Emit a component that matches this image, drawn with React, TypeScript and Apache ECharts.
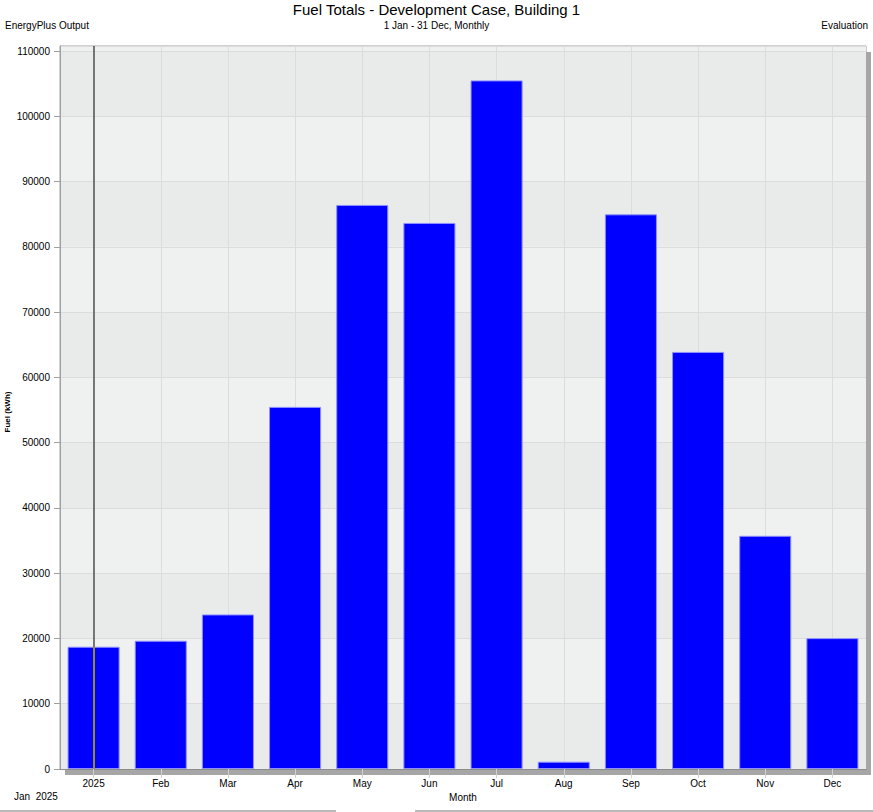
import React, { useEffect, useRef } from "react";
import * as echarts from "echarts";

const months = ["Jan", "Feb", "Mar", "Apr", "May", "Jun", "Jul", "Aug", "Sep", "Oct", "Nov", "Dec"];
const tickLabels = ["2025", "Feb", "Mar", "Apr", "May", "Jun", "Jul", "Aug", "Sep", "Oct", "Nov", "Dec"];
const fuelKWh = [18730, 19650, 23680, 55480, 86420, 83660, 105500, 1120, 84980, 63900, 35730, 20050];
const yMin = 0;
const yMax = 110770;
const yInterval = 10000;
const cursorMonthIndex = 0;

const FONT = '"Liberation Sans", Arial, sans-serif';

export default function App() {
  const ref = useRef<HTMLDivElement>(null);
  useEffect(() => {
    if (!ref.current) return;
    const chart = echarts.init(ref.current, undefined, { renderer: "svg" });
    const small = { fontSize: 10, fontWeight: "normal", color: "#000", fontFamily: FONT };
    const option: any = {
      animation: false,
      backgroundColor: "#ffffff",
      textStyle: { fontFamily: FONT },
      title: [
        {
          text: "Fuel Totals - Development Case, Building 1",
          left: "center",
          top: -3,
          textStyle: { fontSize: 15, fontWeight: "normal", color: "#000", fontFamily: FONT },
        },
        { text: "1 Jan - 31 Dec, Monthly", left: "center", top: 15, textStyle: small },
        { text: "EnergyPlus Output", left: 0, top: 15, textStyle: small },
        { text: "Evaluation", right: 0, top: 15, textStyle: small },
        { text: "Jan  2025", left: 9, top: 786, textStyle: small },
      ],
      grid: {
        left: 60,
        right: 7,
        top: 46,
        bottom: 43,
        show: true,
        borderColor: "#a0a0a0",
        borderWidth: 1,
        backgroundColor: "transparent",
        containLabel: false,
        outerBoundsMode: "none",
      },
      graphic: [
        { type: "rect", shape: { x: 866, y: 52, width: 5, height: 723 }, style: { fill: "#a6a6a6" }, z: 0 },
        { type: "rect", shape: { x: 65, y: 769, width: 806, height: 6 }, style: { fill: "#a6a6a6" }, z: 0 },
        { type: "line", shape: { x1: 0, y1: 811, x2: 336, y2: 811 }, style: { stroke: "#b8b8b8", lineWidth: 2 } },
        { type: "line", shape: { x1: 415, y1: 811, x2: 873, y2: 811 }, style: { stroke: "#b8b8b8", lineWidth: 2 } },
        {
          type: "text",
          x: 7,
          y: 412,
          rotation: Math.PI / 2,
          style: {
            text: "Fuel (kWh)",
            fill: "#000",
            font: `bold 8px ${FONT}`,
            textAlign: "center",
            textVerticalAlign: "middle",
          },
        },
      ],
      xAxis: {
        type: "category",
        data: months,
        boundaryGap: true,
        name: "Month",
        nameLocation: "middle",
        nameGap: 21,
        nameTextStyle: { fontSize: 10, color: "#000", fontFamily: FONT },
        axisLine: { show: true, lineStyle: { color: "#8c8c8c", width: 1 } },
        axisTick: { show: true, alignWithLabel: true, length: 9, lineStyle: { color: "#d0d0d0" } },
        axisLabel: {
          fontSize: 10,
          color: "#000",
          margin: 9,
          fontFamily: FONT,
          formatter: (_v: string, i: number) => tickLabels[i],
        },
        splitLine: { show: true, alignWithLabel: true, lineStyle: { color: "#dcdcdc", width: 1 } },
      },
      yAxis: {
        type: "value",
        min: yMin,
        max: yMax,
        interval: yInterval,
        axisLine: { show: true, lineStyle: { color: "#a0a0a0", width: 1 } },
        axisTick: { show: true, length: 6, lineStyle: { color: "#a0a0a0" } },
        axisLabel: {
          fontSize: 10,
          color: "#000",
          margin: 10,
          showMaxLabel: false,
          fontFamily: FONT,
          formatter: (v: number) => String(v),
        },
        splitLine: { show: true, lineStyle: { color: "#dcdcdc", width: 1 } },
        splitArea: { show: true, areaStyle: { color: ["#e9ebeb", "#eff1f0"] } },
      },
      series: [
        {
          type: "bar",
          data: fuelKWh,
          barCategoryGap: "22.5%",
          itemStyle: { color: "#0000ff", borderColor: "#8f8fff", borderWidth: 1 },
          markLine: {
            silent: true,
            symbol: ["none", "none"],
            label: { show: false },
            data: [
              { xAxis: cursorMonthIndex, lineStyle: { color: "#505050", width: 1.5, type: "solid" } },
              [
                { coord: [cursorMonthIndex, 0], lineStyle: { color: "#b8a800", width: 1.5, type: "solid" } },
                { coord: [cursorMonthIndex, fuelKWh[cursorMonthIndex]] },
              ],
            ],
          },
        },
      ],
    };
    chart.setOption(option);
    return () => chart.dispose();
  }, []);
  return (
    <div
      ref={ref}
      style={{ position: "fixed", left: 0, top: 0, width: 873, height: 812, background: "#fff" }}
    />
  );
}
